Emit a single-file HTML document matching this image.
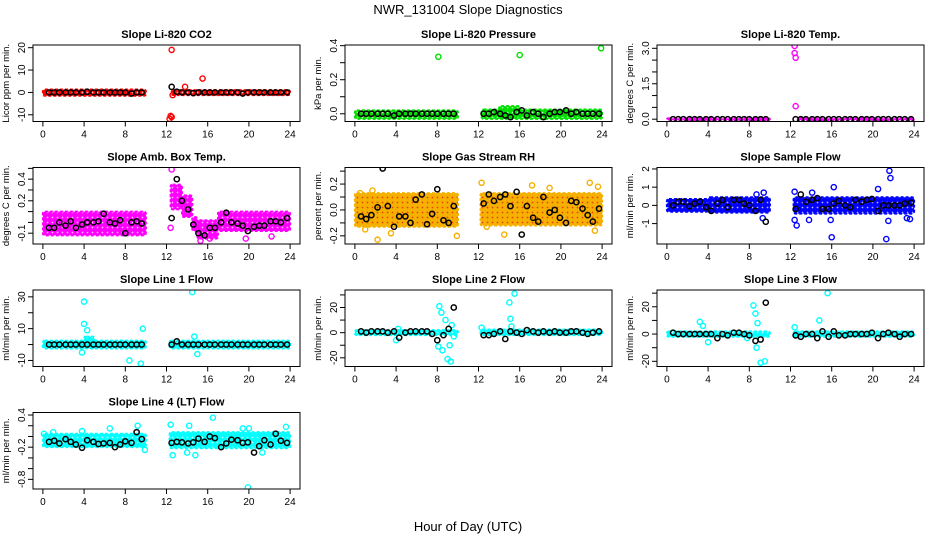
<!DOCTYPE html>
<html><head><meta charset="utf-8"><style>
body{margin:0;background:#fff}
svg{display:block;font-family:"Liberation Sans",sans-serif}
</style></head><body>
<svg id="c" width="936" height="540">
<text x="468" y="14" text-anchor="middle" font-size="13">NWR_131004  Slope Diagnostics</text>
<text x="468" y="531" text-anchor="middle" font-size="13">Hour of Day (UTC)</text>
</svg>
<script>
const HOURS=[0.6,1.1,1.6,2.2,2.7,3.2,3.8,4.3,4.9,5.4,5.9,6.5,7.0,7.5,8.0,8.6,9.1,9.6,12.5,13.0,13.5,14.1,14.6,15.1,15.7,16.2,16.7,17.3,17.8,18.3,18.9,19.4,19.9,20.5,21.0,21.5,22.1,22.6,23.1,23.7];
const XTICKS=[0,4,8,12,16,20,24];
const titles=["Slope Li-820 CO2","Slope Li-820 Pressure","Slope Li-820 Temp.","Slope Amb. Box Temp.","Slope Gas Stream RH","Slope Sample Flow","Slope Line 1 Flow","Slope Line 2 Flow","Slope Line 3 Flow","Slope Line 4 (LT) Flow"];
const ylabels=["Licor ppm per min.","kPa per min.","degrees C per min.","degrees C per min.","percent per min.","ml/min per min.","ml/min per min.","ml/min per min.","ml/min per min.","ml/min per min."];
const colors=["#ff0000","#00e000","#ff00ff","#ff00ff","#f5b000","#0000ff","#00ffff","#00ffff","#00ffff","#00ffff"];
const ylims=[[-13,21.2],[-0.0455,0.404],[-0.098,3.14],[-0.2,0.508],[-0.263,0.328],[-2.12,2.08],[-13.8,34.3],[-26.9,33.9],[-23.8,32.3],[-0.98,0.447]];
const yticks=[[-10,0,10,20],[0,0.1,0.2,0.3,0.4],[0,0.5,1,1.5,2,2.5,3],[-0.1,0,0.1,0.2,0.3,0.4,0.5],[-0.2,-0.1,0,0.1,0.2,0.3],[-1,0,1,2],[-10,0,10,20,30],[-20,-10,0,10,20,30],[-20,-10,0,10,20,30],[-0.8,-0.6,-0.4,-0.2,0,0.2,0.4]];
const ytickLabels=[["-10","0","10","20"],["0.0","","0.2","","0.4"],["0.0","","","1.5","","","3.0"],["-0.1","","","0.2","","0.4",""],["-0.2","","0.0","","0.2",""],["-1","0","1","2"],["-10","","10","","30"],["-20","","0","","20",""],["-20","","0","","20",""],["-0.8","","","-0.2","","","0.4"]];
const bands=[
[[0,10,-1.5,1.3],[12.5,24,-1.2,1.0]],
[[0,10,-0.03,0.02],[12.3,24,-0.03,0.025],[14,16,-0.02,0.045]],
[[0,10,-0.04,0.04],[12.7,24,-0.04,0.04]],
[[0,10,-0.12,0.1],[12.4,13.5,0.12,0.35],[13.5,14.5,0.05,0.25],[14.5,15,-0.08,0.05],[15,17,-0.15,0.02],[17,24,-0.08,0.1]],
[[0,10,-0.13,0.13],[12.2,24,-0.12,0.13]],
[[0,4,-0.35,0.35],[4,10,-0.4,0.45],[12.3,24,-0.45,0.45]],
[[0,10,-2.5,2.5],[12.3,24,-2.5,2.5],[4,5,0,5]],
[[0,10,-2,2],[12.2,24,-2,2.5]],
[[0,10,-2,2],[12.3,24,-2,2]],
[[0,10,-0.2,0.05],[12.3,24,-0.22,0.08]]];
const outliers=[
[[12.5,19],[12.4,-10.5],[12.3,-11.8],[12.5,-11],[12.6,-1.2],[13.8,2.5],[15.5,6.2]],
[[8.1,0.335],[16,0.345],[23.9,0.385]],
[[12.4,3.1],[12.4,2.8],[12.5,2.6],[12.5,0.55]],
[[12.5,0.49],[12.4,-0.05],[16.2,-0.15],[19.7,-0.15],[22.2,-0.13],[15.3,-0.17]],
[[0.5,0.13],[1.0,-0.15],[1.7,0.15],[2.2,-0.23],[3.5,-0.18],[9.9,-0.2],[12.3,0.21],[12.8,-0.13],[14.5,-0.19],[17.2,0.19],[18.9,0.17],[22.8,0.21],[23.6,0.18],[23.3,-0.16]],
[[8.7,0.6],[9.3,-0.7],[9.4,0.7],[12.4,0.75],[12.4,-0.8],[12.6,-1.1],[13.8,-0.8],[15.9,-0.8],[16,-1.75],[16.2,1.0],[20.5,0.9],[21.6,1.9],[21.7,1.5],[21.5,-0.85],[21.3,-1.85],[23.3,-0.7],[23.6,-0.75],[14.1,0.7]],
[[4,27],[4,13],[4.3,9],[3.8,-5],[8.4,-10],[9.5,-12],[9.7,10],[14.5,33],[15,-6],[14.7,5]],
[[4,-6],[4.2,3],[8.2,21],[8.4,16],[8.1,-11],[8.5,-14],[9.0,-21],[9.3,-23],[9.2,-10],[9.4,6],[9.6,-3],[8.8,10],[12.3,4],[15,24],[15.1,11],[15.5,31],[15.2,5]],
[[3.2,9],[3.5,6],[4,-6],[7.8,-3],[8.4,21],[8.6,15],[8.8,8],[8.7,-10],[9.1,-21],[9.5,-20],[12.4,5],[14.8,10],[15.6,30]],
[[3.8,0.1],[6.5,0.15],[9.2,0.2],[9.9,-0.25],[12.4,0.22],[12.6,-0.35],[14.0,-0.3],[14.2,0.2],[14.8,-0.35],[16.5,0.35],[19.4,0.15],[19.9,-0.95],[20,0.15],[21.3,-0.3],[23.6,0.18],[0.1,0.05],[1,0.08]]];
const blackVals=[
[0,0,0,0,0,0,0,0.3,0,0,0,0,0,0,0,-0.5,0,0,2.5,0.3,0,0,-0.3,0,0,0,0,0,0,0,0,-0.5,0,0,0,0,0,0,0,0],
[0,0,0,0,0,0,-0.01,0,0,0,0,0,0,0,0,0,0,0,0,0,0.01,0,-0.01,-0.02,0.01,0.02,-0.01,0.01,0,-0.02,0,0.01,0.01,0.02,0,0.01,0,0,0,0],
[0,0,0,0,0,0,0,0,0,0,0,0,0,0,0,0,0,0,0,0,0,0,0,0,0,0,0,0,0,0,0,0,0,0,0,0,0,0,0,0],
[-0.05,-0.05,0,-0.03,0.01,-0.05,-0.02,0,0,0.01,0.08,0,-0.01,0.02,-0.1,0,0.01,-0.01,0.04,0.4,0.2,0.12,-0.02,-0.1,-0.12,-0.05,-0.05,0,0.09,0,-0.01,-0.03,-0.08,-0.04,-0.03,-0.03,0.01,0.01,0,0.04],
[-0.05,-0.07,-0.04,0.02,0.32,0.03,-0.13,-0.05,-0.05,-0.1,0.08,0.12,-0.11,-0.03,0.16,-0.08,-0.1,0.03,0.05,0.12,0.07,0.1,0.12,0.03,0.14,-0.19,0.03,-0.06,-0.09,0.1,-0.02,0,-0.06,-0.1,0.07,0.06,0.01,-0.04,-0.09,0.01],
[0,0.2,0.2,-0.05,0.1,0.2,-0.1,-0.3,0.1,0.3,-0.1,0.3,0.3,0.1,0,-0.3,0.3,-0.9,-0.2,0.6,0.2,0.3,0.4,-0.2,-0.2,0.1,0.25,0,-0.1,0.3,0.2,0.3,0.35,-0.3,0,0,0,0,0.1,0.15],
[0,0,0,0,0,0,0,0,0,0,0,0,0,0,0,0,0,0,0,2,0,0,0,0,0,0,0,0,0,0,0,0,0,0,0,0,0,0,0,0],
[1,0,1,1,1,0,1,-4,0,1,1,1,1,-1,-6,-2,3,20,-2,-2,-1,1,-5,1,0,-1,2,1,0,1,0,1,0,0,1,1,0,-1,0,1],
[1,0,0,0,0,0,0,0,-3,0,-1,1,1,0,-1,-5,-4,23,-1,-2,0,0,-3,2,-2,2,-1,-1,0,0,0,0,1,-3,0,1,0,-2,0,0],
[-0.1,-0.08,-0.13,-0.05,-0.1,-0.15,-0.21,-0.07,-0.1,-0.14,-0.13,-0.12,-0.2,-0.15,-0.09,-0.12,0.08,-0.05,-0.12,-0.1,-0.11,-0.13,-0.11,-0.04,-0.1,0,-0.03,-0.2,-0.13,-0.06,-0.07,-0.12,-0.11,-0.3,-0.18,-0.07,-0.15,0.05,-0.08,-0.12]];

const svg=document.getElementById('c');
const NS="http://www.w3.org/2000/svg";
function mk(tag,attrs,parent){const e=document.createElementNS(NS,tag);for(const k in attrs)e.setAttribute(k,attrs[k]);parent.appendChild(e);return e;}
const defs=mk('defs',{},svg);
colors.forEach((c,i)=>{
  const p=mk('pattern',{id:'pt'+i,width:5,height:5,patternUnits:'userSpaceOnUse'},defs);
  mk('rect',{width:5,height:5,fill:c},p);
  mk('circle',{cx:2.5,cy:2.5,r:0.9,fill:i===4?'#e03000':'#fff','fill-opacity':i===4?0.8:0.7},p);
});
for(let i=0;i<10;i++){
  const col=i%3,row=Math.floor(i/3);
  const L=33+312*col,R=300+312*col,T=45+122.5*row,B=T+76.5;
  const g=mk('g',{},svg);
  
  
  const xs=h=>L+(h+0.96)/25.92*(R-L);
  const [y0,y1]=ylims[i];
  const ys=v=>B-(v-y0)/(y1-y0)*(B-T);
  const t=mk('text',{x:(L+R)/2,y:T-7,'text-anchor':'middle','font-size':11,'font-weight':'bold'},g);
  t.textContent=titles[i];
  
  
  const yl=mk('text',{x:0,y:0,'text-anchor':'middle','font-size':9.5,transform:`translate(${L-24},${(T+B)/2}) rotate(-90)`},g);
  yl.textContent=ylabels[i];
  
  
  const cp='cp'+i;
  const cl=mk('clipPath',{id:cp},g);mk('rect',{x:L,y:T,width:R-L,height:B-T},cl);
  const pg=mk('g',{'clip-path':`url(#${cp})`},g);
  bands[i].forEach(b=>{
    const r=mk('rect',{x:xs(b[0]),y:ys(b[3]),width:xs(b[1])-xs(b[0]),height:ys(b[2])-ys(b[3]),fill:`url(#pt${i})`,stroke:colors[i],'stroke-width':2,'stroke-dasharray':'3 2',rx:2},pg);
    
    
  });
  outliers[i].forEach(p=>{
    const c=mk('circle',{cx:xs(p[0]),cy:ys(p[1]),r:2.6,fill:'none',stroke:colors[i],'stroke-width':1.4},pg);
    
    
  });
  HOURS.forEach((h,k)=>{
    const c=mk('circle',{cx:xs(h),cy:ys(blackVals[i][k]),r:2.6,fill:'none',stroke:'#000','stroke-width':1.5},pg);
    
    
  });
  mk('rect',{x:L,y:T,width:R-L,height:B-T,fill:'none',stroke:'#000','stroke-width':1},g);
  XTICKS.forEach(v=>{
    mk('line',{x1:xs(v),x2:xs(v),y1:B,y2:B+5,stroke:'#000'},g);
    const tx=mk('text',{x:xs(v),y:B+16,'text-anchor':'middle','font-size':10},g);
    tx.textContent=v;
    
    
  });
  yticks[i].forEach((v,k)=>{
    mk('line',{x1:L-5,x2:L,y1:ys(v),y2:ys(v),stroke:'#000'},g);
    if(ytickLabels[i][k]){
      const ty=mk('text',{x:0,y:0,'text-anchor':'middle','font-size':10,transform:`translate(${L-8},${ys(v)}) rotate(-90)`},g);
      ty.textContent=ytickLabels[i][k];
      
      
    }
  });
}
</script>
</body></html>
